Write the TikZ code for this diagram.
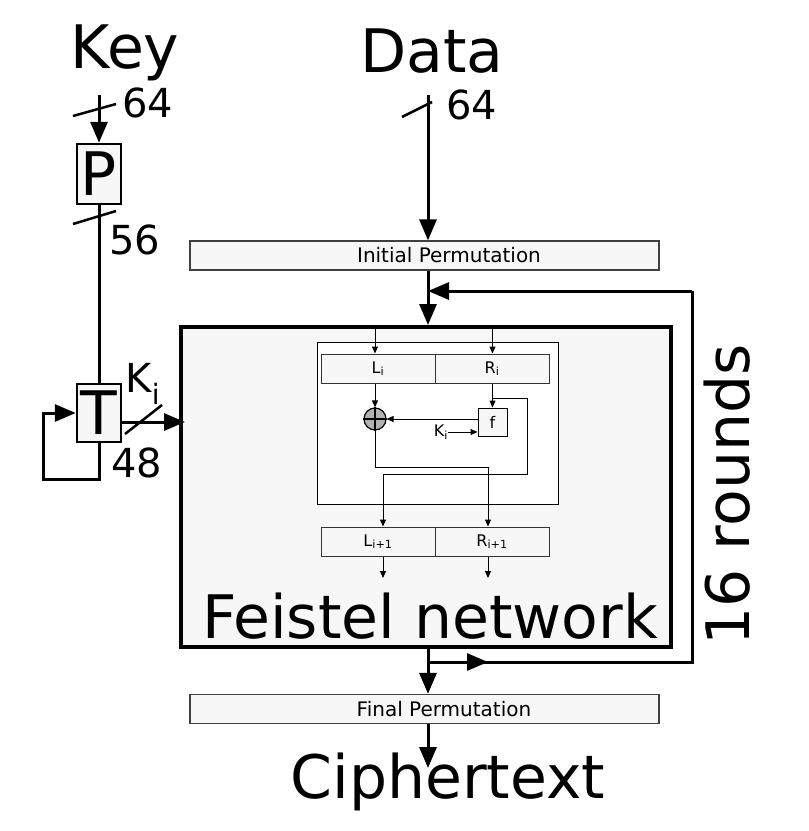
\documentclass[tikz,border=0pt]{standalone}
\usepackage{fontspec}
\setmainfont{DejaVu Sans}
\usetikzlibrary{arrows.meta,positioning}

\newcommand{\hugetext}{\fontsize{60}{62}\selectfont}
\newcommand{\numtext}{\fontsize{40}{42}\selectfont}
\newcommand{\smalltext}{\fontsize{16}{18}\selectfont}

\tikzset{
    bigarrow/.style={line width=3pt, -{Triangle[length=21pt,width=17pt]}},
    bigline/.style={line width=3pt},
    smallarrow/.style={line width=1pt, -{Triangle[length=7pt,width=6pt]}},
    slash/.style={line width=2.5pt},
    permbox/.style={draw=black!75, fill=black!3, line width=1.2pt, minimum width=469pt,
        minimum height=29pt, inner sep=0pt, font=\fontsize{20}{22}\selectfont},
    halfbox/.style={draw=black!80, fill=black!3, line width=1pt, minimum width=114pt,
        minimum height=29pt, inner sep=0pt, font=\smalltext},
    keybox/.style={draw, fill=black!3, line width=2.5pt, minimum width=44pt,
        inner sep=0pt, font=\hugetext}
}

\begin{document}
\begin{tikzpicture}[x=1pt, y=-1pt]
    \useasboundingbox (0,0) rectangle (809,831);

    % key schedule
    \node [anchor=base, font=\hugetext] (key) at (125,68) {Key};
    \coordinate (keyin) at (99,95);
    \node [keybox, minimum height=60pt] (P) at (99,174) {P};
    \node [keybox, minimum height=58pt] (T) at (99,413) {T};
    \coordinate (loopc) at (43,479);
    \draw [bigarrow] (keyin) -- (P.north);
    \draw [slash] (73,116) -- (116,104);
    \node [anchor=west, font=\numtext] (k64) at (119,103) {64};
    \draw [bigline] (P.south) -- (T.north);
    \draw [slash] (73,224) -- (116,211);
    \node [anchor=west, font=\numtext] (k56) at (106,240) {56};
    \draw [bigarrow] (T.south) |- (loopc) |- (T.west);

    % data path
    \node [anchor=base, font=\hugetext] (data) at (432,72) {Data};
    \coordinate (datain) at (428,95);
    \draw [slash] (402,117) -- (432,102);
    \node [anchor=west, font=\numtext] (d64) at (443,105) {64};
    \node [permbox] (init) at (424.5,255.5) {\hspace{49pt}Initial Permutation};
    \draw [bigarrow] (datain) -- (datain |- init.north);

    % feistel network
    \node [draw, line width=4pt, fill=black!3, minimum width=490pt, minimum height=320pt,
        inner sep=0pt] (feistel) at (426,487) {};
    \node [anchor=base, font=\hugetext] (fname) at (430,638) {Feistel network};
    \draw [bigarrow] (datain |- init.south) -- (datain |- feistel.north);

    \node [draw, fill=white, line width=1pt, minimum width=241pt, minimum height=162pt]
        (inner) at (437.5,423) {};
    \node [halfbox] (Li) at (378,368.5) {L\textsubscript{i}};
    \node [halfbox] (Ri) at (492,368.5) {R\textsubscript{i}};
    \node [halfbox] (Li1) at (378,541.5) {L\textsubscript{i+1}};
    \node [halfbox] (Ri1) at (492,541.5) {R\textsubscript{i+1}};
    \node [circle, draw, fill=black!30, line width=1.2pt, minimum size=22pt, inner sep=0pt]
        (xor) at (375,419) {};
    \draw [line width=1.5pt] (xor.north) -- (xor.south) (xor.west) -- (xor.east);
    \node [draw, fill=black!3, line width=1pt, minimum width=29pt, minimum height=28pt,
        inner sep=0pt, font=\smalltext] (f) at (492.5,422) {f};
    \node [font=\smalltext, inner sep=0pt] (kin) at (441,432) {K\textsubscript{i}};
    \coordinate (rtap) at (492,398);
    \coordinate (rturn) at (527,474);
    \coordinate (lout) at (383,578);
    \coordinate (rout) at (488,578);

    \draw [smallarrow] (xor |- feistel.north) -- (xor |- Li.north);
    \draw [smallarrow] (f |- feistel.north) -- (f |- Ri.north);
    \draw [smallarrow] (xor |- Li.south) -- (xor.north);
    \draw [smallarrow] (f |- Ri.south) -- (f.north);
    \draw [smallarrow] (f.west |- xor) -- (xor.east);
    \draw [smallarrow] (kin.east) -- (f.west |- kin);
    \draw [smallarrow] (rtap) -| (rturn) -| ([xshift=5pt]Li1.north);
    \draw [smallarrow] (xor.south) |- (488,467) -- ([xshift=-4pt]Ri1.north);
    \draw [smallarrow] ([xshift=5pt]Li1.south) -- (lout);
    \draw [smallarrow] ([xshift=-4pt]Ri1.south) -- (rout);

    % round key into the network
    \draw [bigarrow] ([yshift=-9pt]T.east) -- ([xshift=6pt]feistel.west |- 0,422);
    \draw [slash] (125,434) -- (162,405);
    \node [anchor=base, font=\numtext] (ki) at (143,392) {K\textsubscript{i}};
    \node [anchor=west, font=\numtext] (k48) at (108,463) {48};

    % 16 rounds loop
    \coordinate (fbtap) at (428,662);
    \coordinate (fbright) at (692,662);
    \coordinate (fbtop) at (692,291);
    \draw [bigline] (fbtap) -- (fbright) -- (fbtop);
    \draw [bigarrow] (fbtap) -- (488,662);
    \draw [bigarrow] (fbtop) -- (428,291);
    \node [rotate=90, font=\hugetext, inner sep=0pt] (rounds) at (727,495) {16 rounds};

    % output
    \node [permbox] (final) at (424.5,709) {\hspace{39pt}Final Permutation};
    \draw [bigarrow] (datain |- feistel.south) -- (datain |- final.north);
    \node [anchor=base, font=\hugetext] (cipher) at (448,798) {Ciphertext};
    \coordinate (cipherin) at (428,768);
    \draw [bigarrow] (datain |- final.south) -- (cipherin);
\end{tikzpicture}
\end{document}
